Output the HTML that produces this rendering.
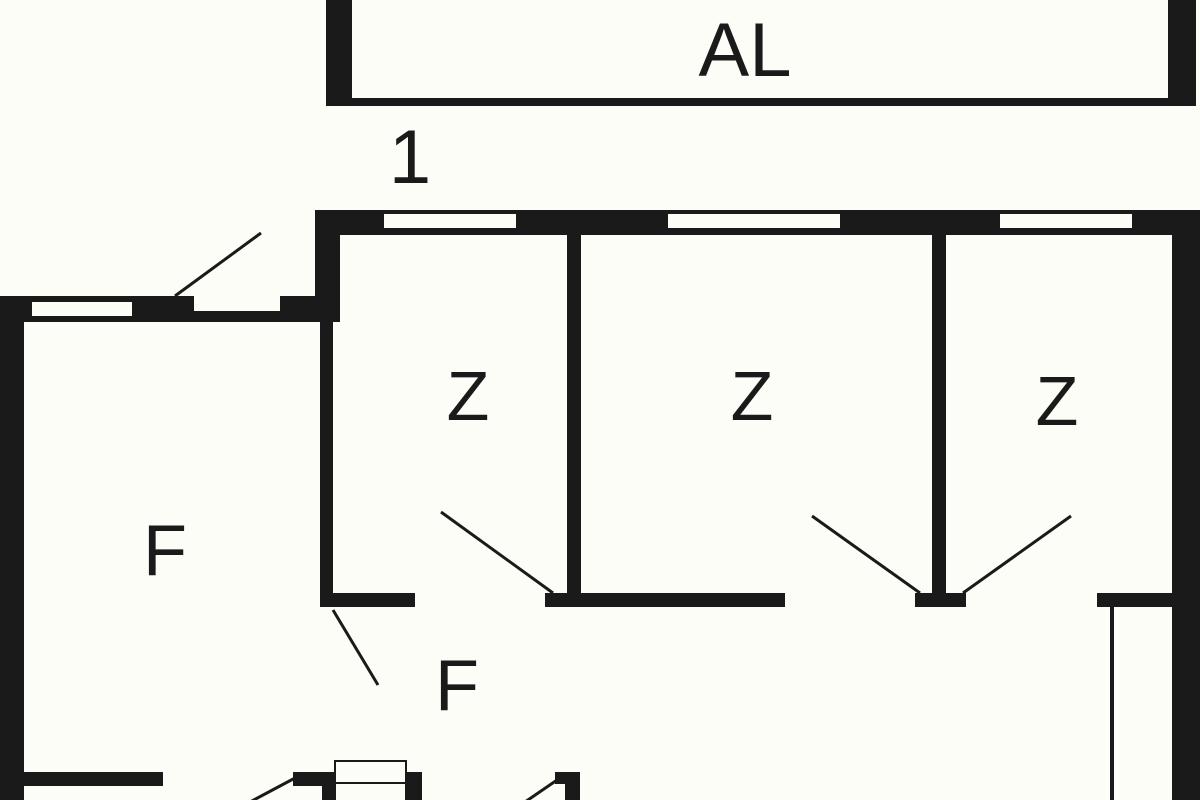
<!DOCTYPE html>
<html><head><style>
html,body{margin:0;padding:0;background:#fdfdf8;}
svg{display:block;}
text{font-family:"Liberation Sans",sans-serif;fill:#1a1a1a;text-anchor:middle;}
</style></head><body>
<svg width="1200" height="800" viewBox="0 0 1200 800">
<rect width="1200" height="800" fill="#fdfdf8"/>
<g fill="#1a1a1a">
<!-- AL box -->
<rect x="326" y="0" width="26" height="105"/>
<rect x="1168" y="0" width="28" height="105"/>
<rect x="326" y="98" width="870" height="8"/>
<!-- top wall -->
<rect x="315" y="210" width="885" height="25"/>
<rect x="315" y="210" width="25" height="112"/>
<rect x="320" y="300" width="13" height="307"/>
<!-- dividers -->
<rect x="567" y="235" width="14" height="365"/>
<rect x="932" y="235" width="14" height="365"/>
<!-- horizontal wall -->
<rect x="320" y="593" width="95" height="14"/>
<rect x="545" y="593" width="240" height="14"/>
<rect x="915" y="593" width="51" height="14"/>
<rect x="1097" y="593" width="78" height="14"/>
<!-- right wall -->
<rect x="1172" y="210" width="28" height="590"/>
<rect x="1110" y="607" width="4" height="193"/>
<!-- F room -->
<rect x="0" y="296" width="194" height="26"/>
<rect x="194" y="311" width="90" height="11"/>
<rect x="280" y="296" width="45" height="26"/>
<rect x="0" y="296" width="24" height="504"/>
<rect x="24" y="772" width="139" height="14"/>
<!-- bottom -->
<rect x="293" y="772" width="42" height="14"/>
<rect x="322" y="772" width="13" height="28"/>
<rect x="406" y="772" width="16" height="28"/>
<rect x="555" y="772" width="25" height="12"/>
<rect x="565" y="772" width="15" height="28"/>
</g>
<g fill="#fdfdf8">
<rect x="384" y="214" width="132" height="14"/>
<rect x="668" y="214" width="172" height="14"/>
<rect x="1000" y="214" width="132" height="14"/>
<rect x="32" y="302" width="100" height="14"/>
</g>
<rect x="335" y="761" width="71" height="22" fill="#fdfdf8" stroke="#1a1a1a" stroke-width="2"/>
<rect x="335" y="783" width="71" height="20" fill="#fdfdf8" stroke="#1a1a1a" stroke-width="2"/>
<g stroke="#1a1a1a" stroke-width="3">
<line x1="175" y1="296" x2="261" y2="233"/>
<line x1="333" y1="610" x2="378" y2="685"/>
<line x1="441" y1="512" x2="553" y2="593"/>
<line x1="812" y1="516" x2="920" y2="593"/>
<line x1="1071" y1="516" x2="963" y2="593"/>
<line x1="295" y1="778" x2="250" y2="802"/>
<line x1="560" y1="778" x2="525" y2="802"/>
</g>
<text x="745" y="76" font-size="76">AL</text>
<text x="410" y="183" font-size="76">1</text>
<text x="468" y="420" font-size="70">Z</text>
<text x="752" y="420" font-size="70">Z</text>
<text x="1057" y="425" font-size="70">Z</text>
<text x="165" y="575" font-size="72">F</text>
<text x="457" y="710" font-size="72">F</text>
</svg>
</body></html>
